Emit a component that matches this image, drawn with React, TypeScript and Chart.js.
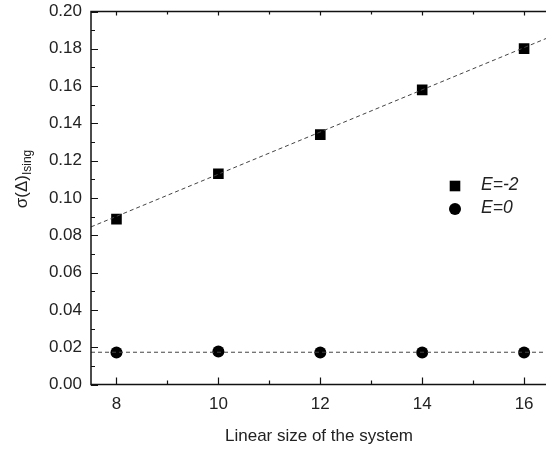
import React, { useEffect, useRef } from "react";
import { Chart, registerables } from "chart.js";

Chart.register(...registerables);

const sizes = [8, 10, 12, 14, 16];
const sigmaEm2 = [0.0887, 0.113, 0.134, 0.158, 0.1801];
const sigmaE0 = [0.0172, 0.0177, 0.0171, 0.0172, 0.0172];
const fitX = [7.5, 16.43];
const fitEm2 = [0.0845, 0.1855];
const fitE0 = [0.0173, 0.0173];
const xTicks = [8, 10, 12, 14, 16];
const xMinorTicks = [9, 11, 13, 15];
const yTicks = [0, 0.02, 0.04, 0.06, 0.08, 0.1, 0.12, 0.14, 0.16, 0.18, 0.2];
const yMinorTicks = [0.01, 0.03, 0.05, 0.07, 0.09, 0.11, 0.13, 0.15, 0.17, 0.19];
const legendLabels = ["E=-2", "E=0"];

const FONT = "'Liberation Sans', Arial, sans-serif";

const framePlugin = {
  id: "frame",
  afterDraw(chart: any) {
    const { ctx, chartArea, scales } = chart;
    const { left, right, top, bottom } = chartArea;
    const x = scales.x;
    const y = scales.y;
    ctx.save();
    ctx.strokeStyle = "#111";
    ctx.lineWidth = 1.5;
    ctx.beginPath();
    ctx.moveTo(right + 2, top);
    ctx.lineTo(left, top);
    ctx.lineTo(left, bottom);
    ctx.lineTo(right + 2, bottom);
    ctx.stroke();

    ctx.lineWidth = 1.2;
    ctx.beginPath();
    const tick = (vals: number[], len: number, topLen: number) => {
      vals.forEach((v) => {
        const px = Math.round(x.getPixelForValue(v)) + 0.5;
        ctx.moveTo(px, bottom);
        ctx.lineTo(px, bottom - len);
        ctx.moveTo(px, top);
        ctx.lineTo(px, top + topLen);
      });
    };
    tick(xTicks, 7, 4);
    tick(xMinorTicks, 4, 3);
    yTicks.forEach((v) => {
      const py = Math.round(y.getPixelForValue(v)) + 0.5;
      ctx.moveTo(left, py);
      ctx.lineTo(left + 7, py);
    });
    yMinorTicks.forEach((v) => {
      const py = Math.round(y.getPixelForValue(v)) + 0.5;
      ctx.moveTo(left, py);
      ctx.lineTo(left + 4, py);
    });
    ctx.stroke();

    // x title
    ctx.fillStyle = "#222";
    ctx.font = `17px ${FONT}`;
    ctx.textAlign = "center";
    ctx.textBaseline = "middle";
    ctx.fillText("Linear size of the system", 319, 436);

    // y title with subscript
    ctx.save();
    ctx.translate(27, 179);
    ctx.rotate(-Math.PI / 2);
    ctx.textAlign = "left";
    ctx.textBaseline = "alphabetic";
    ctx.font = `17px ${FONT}`;
    const main = "\u03c3(\u0394)";
    const w1 = ctx.measureText(main).width;
    ctx.font = `12px ${FONT}`;
    const sub = "Ising";
    const w2 = ctx.measureText(sub).width;
    const start = -(w1 + w2) / 2;
    ctx.font = `17px ${FONT}`;
    ctx.fillText(main, start, 0);
    ctx.font = `12px ${FONT}`;
    ctx.fillText(sub, start + w1, 3.5);
    ctx.restore();

    // legend
    ctx.fillStyle = "#000";
    ctx.fillRect(455 - 5.3, 186 - 5.3, 10.6, 10.6);
    ctx.beginPath();
    ctx.arc(455, 209, 6, 0, Math.PI * 2);
    ctx.fill();
    ctx.fillStyle = "#222";
    ctx.font = `italic 17.5px ${FONT}`;
    ctx.textAlign = "left";
    ctx.textBaseline = "middle";
    ctx.fillText(legendLabels[0], 481, 185);
    ctx.fillText(legendLabels[1], 481, 208.5);
    ctx.restore();
  },
};

export default function App() {
  const ref = useRef<HTMLCanvasElement>(null);
  useEffect(() => {
    if (!ref.current) return;
    const chart = new Chart(ref.current, {
      type: "scatter",
      data: {
        datasets: [
          {
            type: "line",
            label: "fit E=-2",
            data: fitX.map((v, i) => ({ x: v, y: fitEm2[i] })),
            borderColor: "#444",
            borderWidth: 1,
            borderDash: [4, 3],
            pointRadius: 0,
            fill: false,
          },
          {
            type: "line",
            label: "fit E=0",
            data: fitX.map((v, i) => ({ x: v, y: fitE0[i] })),
            borderColor: "#444",
            borderWidth: 1,
            borderDash: [4, 3],
            pointRadius: 0,
            fill: false,
          },
          {
            label: legendLabels[0],
            data: sizes.map((v, i) => ({ x: v, y: sigmaEm2[i] })),
            pointStyle: "rect",
            pointRadius: 7.5,
            backgroundColor: "#000",
            borderColor: "#000",
            borderWidth: 0,
          },
          {
            label: legendLabels[1],
            data: sizes.map((v, i) => ({ x: v, y: sigmaE0[i] })),
            pointStyle: "circle",
            pointRadius: 6,
            backgroundColor: "#000",
            borderColor: "#000",
            borderWidth: 0,
          },
        ],
      },
      options: {
        animation: false,
        responsive: false,
        devicePixelRatio: 1,
        layout: { autoPadding: false, padding: { top: 11.5, right: 0, left: 0, bottom: 0 } },
        plugins: { legend: { display: false }, tooltip: { enabled: false } },
        scales: {
          x: {
            type: "linear",
            min: 7.5,
            max: 16.43,
            grid: { display: false, drawTicks: false },
            border: { display: false },
            afterBuildTicks: (s: any) => {
              s.ticks = xTicks.map((v) => ({ value: v }));
            },
            afterFit: (s: any) => {
              s.height = 66.5;
              s.paddingLeft = 0;
              s.paddingRight = 0;
            },
            ticks: {
              padding: 10,
              color: "#222",
              font: { family: FONT, size: 17 },
              maxRotation: 0,
            },
          },
          y: {
            type: "linear",
            min: 0,
            max: 0.2,
            grid: { display: false, drawTicks: false },
            border: { display: false },
            afterBuildTicks: (s: any) => {
              s.ticks = yTicks.map((v) => ({ value: v }));
            },
            afterFit: (s: any) => {
              s.width = 91;
              s.paddingTop = 0;
              s.paddingBottom = 0;
            },
            ticks: {
              padding: 9,
              color: "#222",
              font: { family: FONT, size: 17 },
              callback: (v: any) => Number(v).toFixed(2),
            },
          },
        },
      },
      plugins: [framePlugin],
    } as any);
    return () => chart.destroy();
  }, []);
  return (
    <div style={{ position: "fixed", left: 0, top: 0, width: 546, height: 451, background: "#fff" }}>
      <canvas ref={ref} width={546} height={451} style={{ display: "block" }} />
    </div>
  );
}
